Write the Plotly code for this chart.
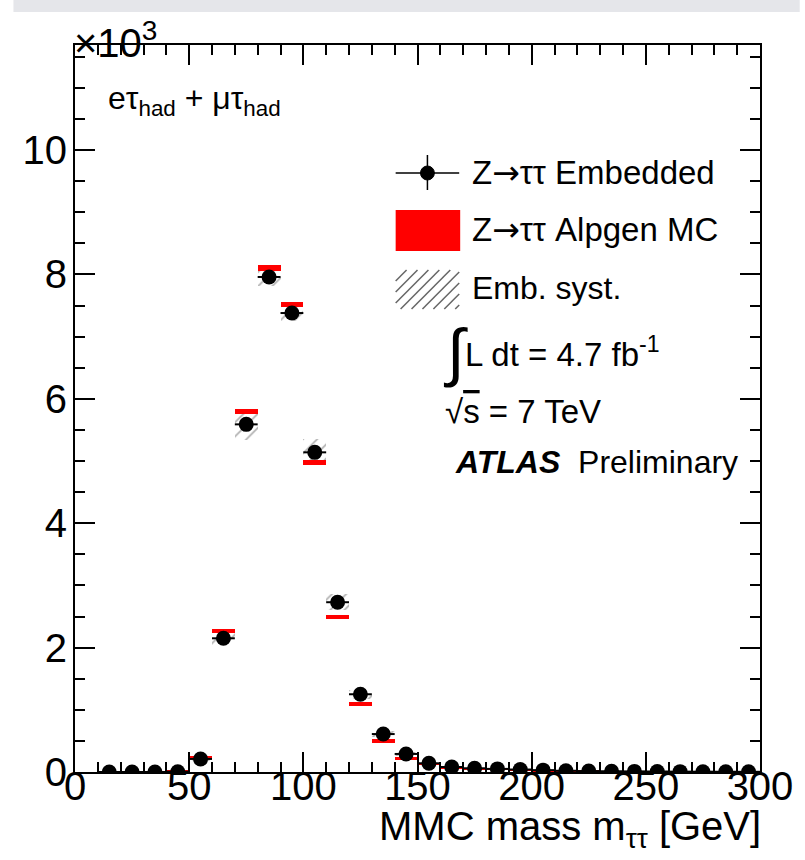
import plotly.graph_objects as go

# ---------------- data (units of 10^3 events) ----------------
bin_centers = [15, 25, 35, 45, 55, 65, 75, 85, 95, 105, 115, 125, 135, 145, 155,
               165, 175, 185, 195, 205, 215, 225, 235, 245, 255, 265, 275, 285, 295]
bin_halfwidth = [5] * len(bin_centers)

emb_values = [0.0, 0.0, 0.0, 0.005, 0.21, 2.15, 5.59, 7.96, 7.38, 5.14, 2.73, 1.25, 0.61,
              0.29, 0.14, 0.08, 0.06, 0.05, 0.04, 0.03, 0.02, 0.015, 0.012, 0.01, 0.008,
              0.006, 0.005, 0.004, 0.003]
emb_stat = [0.0, 0.0, 0.0, 0.005, 0.015, 0.05, 0.075, 0.09, 0.085, 0.07, 0.05, 0.035, 0.025,
            0.017, 0.012, 0.009, 0.008, 0.007, 0.006, 0.005, 0.004, 0.004, 0.003, 0.003,
            0.003, 0.002, 0.002, 0.002, 0.002]
emb_syst = [0.0, 0.0, 0.0, 0.005, 0.03, 0.10, 0.25, 0.14, 0.12, 0.21, 0.13, 0.07, 0.05,
            0.03, 0.02, 0.015, 0.012, 0.01, 0.01, 0.008, 0.006, 0.005, 0.005, 0.004,
            0.004, 0.003, 0.003, 0.003, 0.003]

mc_values = [0.0, 0.0, 0.0, 0.02, 0.24, 2.27, 5.79, 8.10, 7.52, 4.97, 2.49, 1.09, 0.50,
             0.22, 0.13, 0.08, 0.05, 0.05, 0.03, 0.02, 0.015, 0.012, 0.01, 0.008, 0.006,
             0.005, 0.004, 0.003, 0.002]
mc_err = [0.012, 0.012, 0.012, 0.015, 0.025, 0.032, 0.04, 0.046, 0.044, 0.04, 0.034, 0.032,
          0.028, 0.022, 0.018, 0.016, 0.015, 0.015, 0.014, 0.013, 0.012, 0.012, 0.012,
          0.012, 0.012, 0.012, 0.012, 0.012, 0.012]

x_ticks = [0, 50, 100, 150, 200, 250, 300]
y_ticks = [0, 2, 4, 6, 8, 10]

FONT = "Liberation Sans, Arial, Helvetica, sans-serif"

fig = go.Figure()

# Emb. syst. hatched band
fig.add_trace(go.Bar(
    x=bin_centers,
    y=[2 * s for s in emb_syst],
    base=[v - s for v, s in zip(emb_values, emb_syst)],
    width=10,
    marker=dict(color="rgba(0,0,0,0)", line=dict(width=0),
                pattern=dict(shape="/", fgcolor="#666666", bgcolor="rgba(0,0,0,0)",
                             size=10, solidity=0.18)),
    showlegend=False, hoverinfo="skip",
))

# Alpgen MC red boxes
fig.add_trace(go.Bar(
    x=bin_centers,
    y=[2 * e for e in mc_err],
    base=[v - e for v, e in zip(mc_values, mc_err)],
    width=10,
    marker=dict(color="#ff0000", line=dict(width=0)),
    showlegend=False, hoverinfo="skip",
))

# Embedded points
fig.add_trace(go.Scatter(
    x=bin_centers, y=emb_values, mode="markers",
    marker=dict(color="black", size=15, symbol="circle"),
    error_x=dict(type="data", array=bin_halfwidth, thickness=2, width=0, color="black"),
    error_y=dict(type="data", array=emb_stat, thickness=2, width=0, color="black"),
    showlegend=False, hoverinfo="skip",
))

# ---------------- layout ----------------
L, R, T, B = 75, 765, 45, 772
W, H = R - L, B - T


def px(x):
    return (x - L) / W


def py(y):
    return (B - y) / H


axis_common = dict(
    showline=True, linewidth=2, linecolor="black", mirror="ticks",
    ticks="inside", ticklen=20, tickwidth=1.5, tickcolor="black",
    showgrid=False, zeroline=False,
    tickfont=dict(family=FONT, size=40, color="black"),
)

fig.update_layout(
    width=805, height=860,
    margin=dict(l=L, r=805 - R, t=T, b=860 - B),
    paper_bgcolor="white", plot_bgcolor="white",
    barmode="overlay", bargap=0,
    showlegend=False,
    xaxis=dict(range=[0, 300], tickvals=x_ticks, ticktext=[str(v) for v in x_ticks],
               ticklabelstandoff=-22,
               minor=dict(dtick=10, ticklen=10, ticks="inside", tickcolor="black", tickwidth=1.5),
               **axis_common),
    yaxis=dict(range=[0, 11.69], tickvals=y_ticks, ticktext=[str(v) for v in y_ticks],
               ticklabelstandoff=-2,
               minor=dict(dtick=0.5, ticklen=10, ticks="inside", tickcolor="black", tickwidth=1.5),
               **axis_common),
)

shapes = []
annotations = []

# top gray strip (screenshot artefact)
shapes.append(dict(type="rect", xref="paper", yref="paper",
                   x0=px(13), x1=px(805), y0=py(12), y1=py(0),
                   fillcolor="#e5e6ea", line=dict(width=0), layer="below"))

# legend: embedded marker
shapes.append(dict(type="line", xref="paper", yref="paper",
                   x0=px(398), x1=px(462), y0=py(173), y1=py(173),
                   line=dict(color="black", width=1.5)))
shapes.append(dict(type="line", xref="paper", yref="paper",
                   x0=px(430), x1=px(430), y0=py(155), y1=py(190),
                   line=dict(color="black", width=1.5)))
shapes.append(dict(type="circle", xref="paper", yref="paper",
                   x0=px(423), x1=px(437), y0=py(180), y1=py(166),
                   fillcolor="black", line=dict(color="black", width=1)))
# legend: red box
shapes.append(dict(type="rect", xref="paper", yref="paper",
                   x0=px(398), x1=px(463), y0=py(251), y1=py(210),
                   fillcolor="#ff0000", line=dict(width=0)))
# legend: hatched box
hx0, hx1, hy0, hy1 = 398, 462, 270, 309
hh = hy1 - hy0
c = -hh
while c < (hx1 - hx0):
    t0 = max(0, -c)
    t1 = min(hh, (hx1 - hx0) - c)
    if t1 > t0:
        shapes.append(dict(type="line", xref="paper", yref="paper",
                           x0=px(hx0 + c + t0), y0=py(hy1 - t0),
                           x1=px(hx0 + c + t1), y1=py(hy1 - t1),
                           line=dict(color="#666666", width=1.5)))
    c += 11

fig.update_layout(shapes=shapes)


def ann(text, x, y, size, xanchor="left", yanchor="middle"):
    annotations.append(dict(text=text, x=px(x), y=py(y), xref="paper", yref="paper",
                            xanchor=xanchor, yanchor=yanchor, showarrow=False,
                            font=dict(family=FONT, size=size, color="black")))


ARROW = '<span style="font-family:DejaVu Sans">→</span>'
ann("Z" + ARROW + "ττ Embedded", 473, 173, 33)
ann("Z" + ARROW + "ττ Alpgen MC", 473, 230, 33)
ann("Emb. syst.", 473, 288, 32)
ann("∫", 444, 352, 64)
ann("L dt = 4.7 fb<sup>-1</sup>", 466, 352, 33)
ann('√<span style="text-decoration:overline">s</span> = 7 TeV', 446, 411, 33)
ann("<b><i>ATLAS</i></b>  Preliminary", 456, 462, 32)
ann("eτ<sub>had</sub> + μτ<sub>had</sub>", 106, 100, 32)
ann("×10<sup>3</sup>", 72, 40, 40)
ann("MMC mass m<sub>ττ</sub> [GeV]", 768, 829, 40, xanchor="right")

fig.update_layout(annotations=annotations)

fig.write_html("out.html")
